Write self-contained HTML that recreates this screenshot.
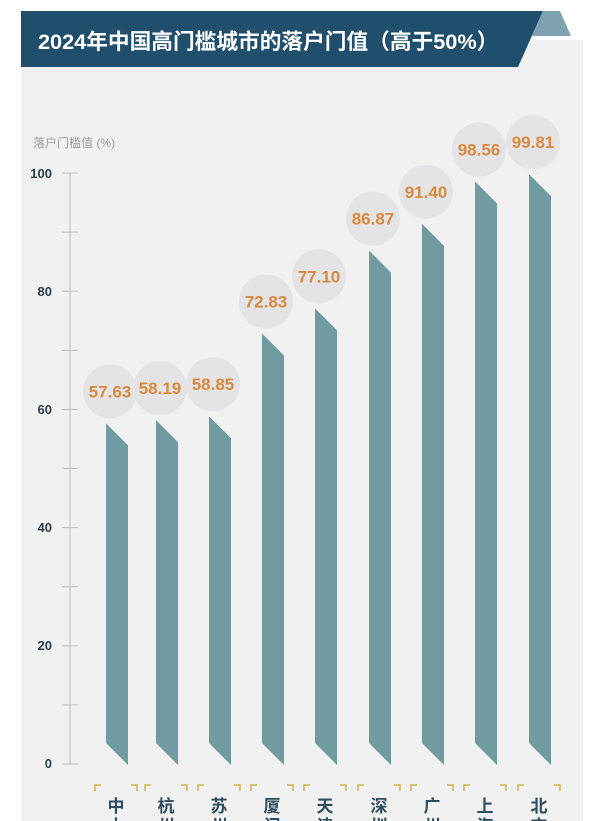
<!DOCTYPE html>
<html><head><meta charset="utf-8"><style>
body{margin:0;width:600px;height:821px;background:#fff;overflow:hidden;font-family:"Liberation Sans","Noto Sans CJK SC",sans-serif}
</style></head><body>
<svg width="600" height="821" viewBox="0 0 600 821" xmlns="http://www.w3.org/2000/svg" style="position:absolute;left:0;top:0">
<rect x="21" y="40" width="562" height="790" fill="#f1f1f1"/>
<polygon points="21,11 543,11 518,67 21,67" fill="#1f4f6c"/>
<polygon points="543,11 560,11 571,36 532,36" fill="#7fa2b3"/>
<text x="38" y="49" font-size="21.7" font-weight="bold" fill="#ffffff" font-family="'Liberation Sans','Noto Sans CJK SC',sans-serif">2024年中国高门槛城市的落户门值（高于50%）</text>
<text x="33" y="147" font-size="12" fill="#9a9a9a" font-family="'Liberation Sans','Noto Sans CJK SC',sans-serif">落户门槛值 (%)</text>
<g stroke="#bdbdbd" stroke-width="1">
<line x1="70" y1="173" x2="70" y2="764"/>
<g id="ticks"></g>
</g>
<g font-size="13" font-weight="bold" fill="#2b3f4a" text-anchor="end">
<text x="52" y="178">100</text><text x="52" y="296">80</text><text x="52" y="414">60</text><text x="52" y="532">40</text><text x="52" y="650">20</text><text x="52" y="768">0</text>
</g>
<g id="bars"></g>
</svg>
<script>
var ns="http://www.w3.org/2000/svg",s=document.querySelector('svg');
var tk=document.getElementById('ticks');
for(var i=0;i<=10;i++){var y=764-i*59.1;var l=document.createElementNS(ns,'line');l.setAttribute('x1',62);l.setAttribute('x2',78);l.setAttribute('y1',y);l.setAttribute('y2',y);tk.appendChild(l);}
var v=[57.63,58.19,58.85,72.83,77.10,86.87,91.40,98.56,99.81],xs=[106,156,209,262,315,369,422,475,529],
c=["中山","杭州","苏州","厦门","天津","深圳","广州","上海","北京"];
var g=document.getElementById('bars'),h='';
for(var i=0;i<9;i++){var x=xs[i],t=764-v[i]*5.91;
h+='<circle cx="'+(x+4)+'" cy="'+(t-32)+'" r="27" fill="#e4e3e6"/>';
h+='<polygon points="'+x+','+t+' '+(x+22)+','+(t+22)+' '+(x+22)+',765 '+x+',743" fill="#6f9ba1"/>';
h+='<text x="'+(x+4)+'" y="'+(t-26)+'" text-anchor="middle" font-size="17" font-weight="bold" fill="#d98a3e">'+v[i].toFixed(2)+'</text>';
h+='<path d="M'+(x-11)+',791 v-6 h6 M'+(x+25)+',785 h6 v6" stroke="#c8b84a" stroke-width="1.5" fill="none"/>';
h+='<text x="'+(x+10)+'" y="812" text-anchor="middle" font-size="17" font-weight="bold" fill="#2d4e5e" font-family="Noto Sans CJK SC,sans-serif">'+c[i][0]+'</text>';
h+='<text x="'+(x+10)+'" y="832" text-anchor="middle" font-size="17" font-weight="bold" fill="#2d4e5e" font-family="Noto Sans CJK SC,sans-serif">'+c[i][1]+'</text>';}
g.innerHTML=h;
</script>
</body></html>
